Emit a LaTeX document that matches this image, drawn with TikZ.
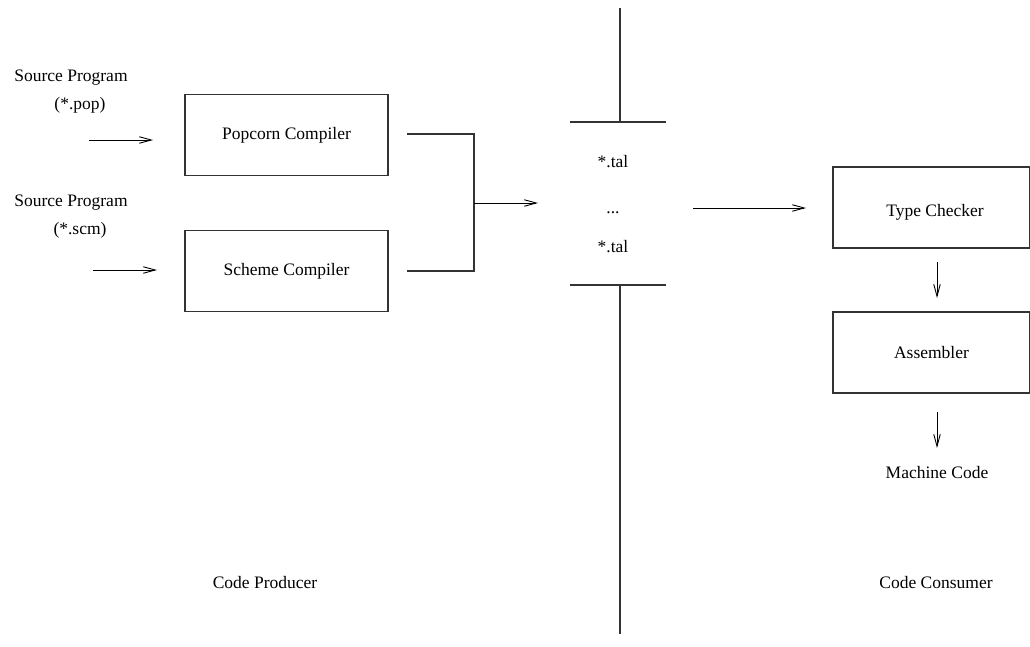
\documentclass[tikz,border=0pt]{standalone}
\usepackage{fontspec}
\setmainfont{Liberation Serif}
\usetikzlibrary{arrows.meta}
\begin{document}
\begin{tikzpicture}[x=1pt,y=-1pt,
  every node/.style={font=\fontsize{17.5}{20}\selectfont, inner sep=0pt},
  stagebox/.style={draw=black!80, line width=1.1pt, minimum width=203pt, minimum height=81pt},
  stagebox2/.style={draw=black!80, line width=1.1pt, minimum width=197pt, minimum height=81pt},
  flow/.style={line width=0.9pt, -{Straight Barb[length=12pt,width=6.5pt,line width=0.9pt]}},
  wire/.style={draw=black!80, line width=1.1pt}]
\useasboundingbox (0,0) rectangle (1030,646);

% producer side
\node (src1) at (71,78) {Source Program};
\node (ext1) at (80,105) {(*.pop)};
\node (src2) at (71,203) {Source Program};
\node (ext2) at (80,230) {(*.scm)};
\node[stagebox] (pop) at (286.5,135) {Popcorn Compiler};
\node[stagebox] (scm) at (286.5,271) {Scheme Compiler};
\coordinate (in1a) at (89,140);
\coordinate (in1b) at (153,140);
\coordinate (in2a) at (93,270);
\coordinate (in2b) at (157,270);
\draw[flow] (in1a) -- (in1b);
\draw[flow] (in2a) -- (in2b);

% merge of the two compiler outputs
\coordinate (m1) at (407,134);
\coordinate (m2) at (407,271);
\coordinate (mj) at (474,203);
\coordinate (mo) at (538,203);
\draw[wire] (m1) -| (mj) |- (m2);
\draw[flow] (mj) -- (mo);

% boundary between producer and consumer
\coordinate (bt) at (620,8);
\coordinate (bb) at (620,634);
\coordinate (tl) at (570,122);
\coordinate (tr) at (666,122);
\coordinate (bl) at (570,285);
\coordinate (br) at (666,285);
\coordinate (tm) at (620,122);
\coordinate (bm) at (620,285);
\draw[wire] (bt) -- (tm);
\draw[wire] (tl) -- (tr);
\draw[wire] (bl) -- (br);
\draw[wire] (bm) -- (bb);
\node (tal1) at (613,162) {*.tal};
\node[anchor=base] (dots) at (613,213) {...};
\node (tal2) at (613,247) {*.tal};

% consumer side
\coordinate (out1) at (693,208);
\coordinate (out2) at (806,208);
\draw[flow] (out1) -- (out2);
\node[stagebox2] (tc) at (931.5,207.5) {};
\node (tctext) at (935,212) {Type Checker};
\node[stagebox2] (asm) at (931.5,352.5) {Assembler};
\coordinate (d1a) at (937,262);
\coordinate (d1b) at (937,298);
\coordinate (d2a) at (937,412);
\coordinate (d2b) at (937,448);
\draw[flow] (d1a) -- (d1b);
\draw[flow] (d2a) -- (d2b);
\node (mc) at (937,473) {Machine Code};

\node (prod) at (265,583) {Code Producer};
\node (cons) at (936,583) {Code Consumer};
\end{tikzpicture}
\end{document}
